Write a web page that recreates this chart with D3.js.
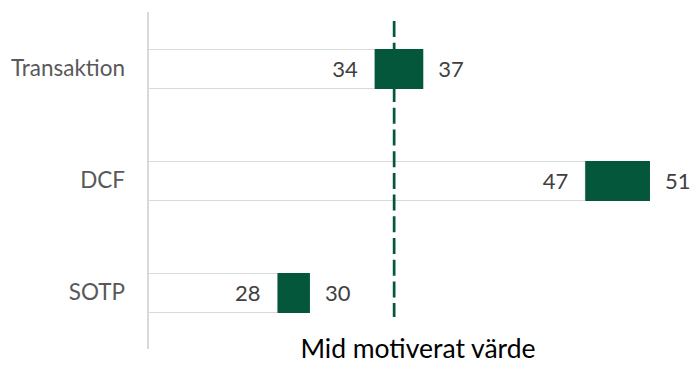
<!DOCTYPE html>
<html>
<head>
<meta charset="utf-8">
<script src="https://cdn.jsdelivr.net/npm/d3@7"></script>
<style>
  html, body { margin: 0; padding: 0; background: #ffffff; }
  svg { display: block; }
  text { font-family: Lato, "Open Sans", sans-serif; }
</style>
</head>
<body>
<div id="chart"></div>
<script>
// Valuation ranges per method (low / high), and the midpoint marker
const categories = ["Transaktion", "DCF", "SOTP"];
const lowValues  = [34, 47, 28];
const highValues = [37, 51, 30];
const midValue   = 35.2;
const midLabel   = "Mid motiverat värde";

const width = 692, height = 365;
const green = "#04573b";

const svg = d3.select("#chart").append("svg")
  .attr("width", width)
  .attr("height", height);

// Value axis starts at 20, category bands stacked top to bottom
const x = d3.scaleLinear().domain([20, 51]).range([148, 650]);
const y = d3.scaleBand().domain(categories).range([13, 349]).paddingInner(0.643).paddingOuter(0.3215);

const rows = categories.map((c, i) => ({ cat: c, low: lowValues[i], high: highValues[i] }));

// Base segment from axis origin to the low value
svg.append("g").selectAll("rect")
  .data(rows).join("rect")
  .attr("x", x(20))
  .attr("y", d => y(d.cat) + 0.5)
  .attr("width", d => x(d.low) - x(20))
  .attr("height", y.bandwidth() - 1)
  .attr("fill", "#ffffff")
  .attr("stroke", "#d3dcd9")
  .attr("stroke-width", 1);

// Range segment low -> high
svg.append("g").selectAll("rect")
  .data(rows).join("rect")
  .attr("x", d => x(d.low))
  .attr("y", d => y(d.cat))
  .attr("width", d => x(d.high) - x(d.low))
  .attr("height", y.bandwidth())
  .attr("fill", green);

// Category axis line
svg.append("line")
  .attr("x1", x(20)).attr("x2", x(20))
  .attr("y1", 12).attr("y2", 349)
  .attr("stroke", "#d9d9d9")
  .attr("stroke-width", 2);

// Category labels
const yAxis = d3.axisLeft(y).tickSize(0).tickPadding(0);
const gy = svg.append("g")
  .attr("transform", `translate(${x(20) - 23},0)`)
  .call(yAxis);
gy.select(".domain").remove();
gy.selectAll("text")
  .attr("fill", "#595959")
  .style("font-size", "22.5px")
  .style("font-family", "Lato, 'Open Sans', sans-serif");

// Midpoint dashed marker
svg.append("line")
  .attr("x1", x(midValue)).attr("x2", x(midValue))
  .attr("y1", 21).attr("y2", 317)
  .attr("stroke", green)
  .attr("stroke-width", 2.7)
  .attr("stroke-dasharray", "16 5.7");

// Value labels
svg.append("g").selectAll("text")
  .data(rows).join("text")
  .attr("x", d => x(d.low) - 17)
  .attr("y", d => y(d.cat) + y.bandwidth() / 2)
  .attr("dy", "0.35em")
  .attr("text-anchor", "end")
  .attr("fill", "#404040")
  .style("font-size", "22px")
  .text(d => d.low);

svg.append("g").selectAll("text")
  .data(rows).join("text")
  .attr("x", d => x(d.high) + 15)
  .attr("y", d => y(d.cat) + y.bandwidth() / 2)
  .attr("dy", "0.35em")
  .attr("text-anchor", "start")
  .attr("fill", "#404040")
  .style("font-size", "22px")
  .text(d => d.high);

// Marker caption
svg.append("text")
  .attr("x", 418)
  .attr("y", 358)
  .attr("text-anchor", "middle")
  .attr("fill", "#000000")
  .style("font-size", "26.5px")
  .text(midLabel);
</script>
</body>
</html>
